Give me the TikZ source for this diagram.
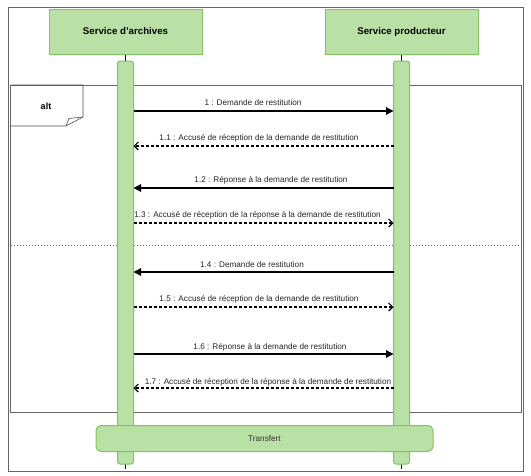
\documentclass[tikz,border=0pt]{standalone}
\usepackage{fontspec}
\setmainfont{Liberation Sans}
\usetikzlibrary{arrows.meta}
\definecolor{gfill}{HTML}{B9E0A5}
\definecolor{gdraw}{HTML}{80C462}
\definecolor{frame}{HTML}{666666}
\begin{document}
\begin{tikzpicture}[x=1pt,y=-1pt,
  actor/.style={draw=gdraw,fill=gfill,line width=1pt,minimum width=153pt,minimum height=45pt,font=\fontsize{9.7}{11}\selectfont\bfseries,inner sep=0pt},
  bar/.style={draw=gdraw,fill=gfill,line width=1pt,rounded corners=2.5pt},
  lbl/.style={font=\fontsize{8.2}{9}\selectfont,text=black!85,inner sep=0pt},
  sync/.style={line width=1.2pt,-{Triangle[length=7.5pt,width=7.5pt]}},
  reply/.style={line width=1.2pt,dash pattern=on 3pt off 2pt,-{Straight Barb[length=4pt,width=8pt,line width=1.2pt]}}]
\useasboundingbox (0,0) rectangle (531,475);
% outer frame
\draw[frame,line width=1pt] (8,7) rectangle (523,471);
% actors
\node[actor] (A) at (125.5,31.5) {Service d\char39 archives};
\node[actor] (P) at (401.5,31.5) {Service producteur};
% alt frame
\draw[frame,line width=0.8pt] (10.5,85) rectangle (521,412);
\draw[black!70,line width=0.6pt] (10.5,85) -- (83,85) -- (83,117) -- (66,126) -- (10.5,126);
\draw[black!70,line width=0.6pt] (66,126) -- (69,118.5) -- (83,117);
\node[font=\fontsize{9}{10}\selectfont\bfseries] (alt) at (46,106) {alt};
\draw[frame,line width=0.8pt,dash pattern=on 1.5pt off 1.5pt] (10.5,245) -- (521,245);
% lifelines
\coordinate (Ab) at (125.5,464);
\coordinate (Pb) at (401.5,464);
\coordinate (Ae) at (125.5,469);
\coordinate (Pe) at (401.5,469);
\draw[line width=1.2pt] (A.south) -- ++(0,7);
\draw[line width=1.2pt] (P.south) -- ++(0,7);
\draw[line width=1.2pt] (Ab) -- (Ae);
\draw[line width=1.2pt] (Pb) -- (Pe);
% activation bars
\node[bar,minimum width=16pt,minimum height=403pt,inner sep=0pt] (AB) at (125.5,262.5) {};
\node[bar,minimum width=16pt,minimum height=403pt,inner sep=0pt] (PB) at (401.5,262.5) {};
% messages
\coordinate (a1) at (133.5,111); \coordinate (p1) at (393.5,111);
\coordinate (a2) at (133.5,146); \coordinate (p2) at (393.5,146);
\coordinate (a3) at (133.5,188); \coordinate (p3) at (393.5,188);
\coordinate (a4) at (133.5,223); \coordinate (p4) at (393.5,223);
\coordinate (a5) at (133.5,272); \coordinate (p5) at (393.5,272);
\coordinate (a6) at (133.5,307); \coordinate (p6) at (393.5,307);
\coordinate (a7) at (133.5,354); \coordinate (p7) at (393.5,354);
\coordinate (a8) at (133.5,388); \coordinate (p8) at (393.5,388);
\draw[sync] (a1) -- (p1);
\draw[reply] (p2) -- (a2);
\draw[sync] (p3) -- (a3);
\draw[reply] (a4) -- (p4);
\draw[sync] (p5) -- (a5);
\draw[reply] (a6) -- (p6);
\draw[sync] (a7) -- (p7);
\draw[reply] (p8) -- (a8);
\node[lbl] (l1) at (253,103) {1 : Demande de restitution};
\node[lbl] (l2) at (259,138) {1.1 : Accusé de réception de la demande de restitution};
\node[lbl] (l3) at (271,180.5) {1.2 : Réponse à la demande de restitution};
\node[lbl] (l4) at (257.5,215.5) {1.3 : Accusé de réception de la réponse à la demande de restitution};
\node[lbl] (l5) at (252,264.5) {1.4 : Demande de restitution};
\node[lbl] (l6) at (259,299.5) {1.5 : Accusé de réception de la demande de restitution};
\node[lbl] (l7) at (270,347) {1.6 : Réponse à la demande de restitution};
\node[lbl] (l8) at (268,382) {1.7 : Accusé de réception de la réponse à la demande de restitution};
% transfert
\node[draw=gdraw,fill=gfill,line width=1pt,rounded corners=5pt,minimum width=337pt,minimum height=26pt,inner sep=0pt,font=\fontsize{8.2}{9}\selectfont,text=black!80] (T) at (264.5,438.5) {Transfert};
\end{tikzpicture}
\end{document}
